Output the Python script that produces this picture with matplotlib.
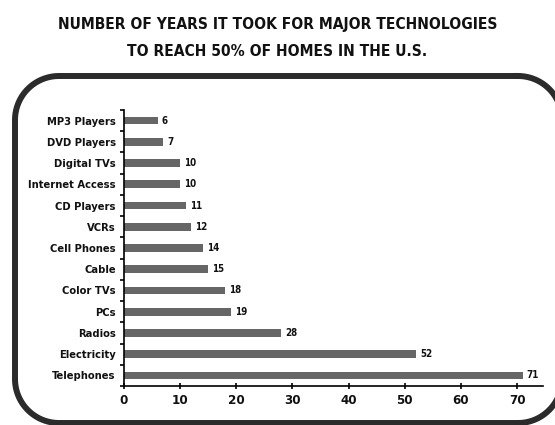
import numpy as np
import matplotlib
matplotlib.use("Agg")
import matplotlib.pyplot as plt

plt.rcParams['font.family'] = ['DejaVu Sans']
plt.rcParams['font.stretch'] = 'condensed'
plt.rcParams['font.weight'] = 'bold'

# data, top to bottom as in the picture
technologies = ["MP3 Players", "DVD Players", "Digital TVs", "Internet Access",
                "CD Players", "VCRs", "Cell Phones", "Cable", "Color TVs",
                "PCs", "Radios", "Electricity", "Telephones"]
years = [6, 7, 10, 10, 11, 12, 14, 15, 18, 19, 28, 52, 71]
x_ticks = [0, 10, 20, 30, 40, 50, 60, 70]

W, H = 555, 425
fig = plt.figure(figsize=(W / 100, H / 100), dpi=100)

# overlay in pixel units (y down) for the rounded frame,
# its right edge runs past the picture like in the original
bg = fig.add_axes([0, 0, 1, 1], zorder=-1)
bg.set_xlim(0, W)
bg.set_ylim(H, 0)
bg.axis("off")

left, right, top, bottom, r = 15, 562, 76, 423, 44
xs, ys = [], []
corners = [(right - r, top + r, -90, 0), (right - r, bottom - r, 0, 90),
           (left + r, bottom - r, 90, 180), (left + r, top + r, 180, 270)]
for cx, cy, a0, a1 in corners:
    t = np.radians(np.linspace(a0, a1, 30))
    xs.extend(cx + r * np.cos(t))
    ys.extend(cy + r * np.sin(t))
xs.append(xs[0])
ys.append(ys[0])
bg.plot(xs, ys, color="#2b2b2b", linewidth=4.3, solid_joinstyle="round")

fig.text(0.5, 1 - 25 / H, "NUMBER OF YEARS IT TOOK FOR MAJOR TECHNOLOGIES",
         ha="center", va="center", fontsize=11.2, color="#111111")
fig.text(0.5, 1 - 52 / H, "TO REACH 50% OF HOMES IN THE U.S.",
         ha="center", va="center", fontsize=11.2, color="#111111")

ax = fig.add_axes([124 / W, 1 - 386 / H, (543 - 124) / W, (386 - 110) / H])
ax.patch.set_alpha(0)
pos = list(range(len(technologies)))
ax.barh(pos, years, height=0.36, color="#666666")
for p, v in zip(pos, years):
    ax.text(v + 0.7, p, str(v), va="center", ha="left", fontsize=7, color="#111111")

ax.set_ylim(len(technologies) - 0.5, -0.5)
ax.set_xlim(0, 74.6)
ax.set_yticks(pos)
ax.set_yticklabels(technologies, fontsize=8, color="#111111")
ax.set_yticks([p - 0.5 for p in pos] + [len(pos) - 0.5], minor=True)
ax.tick_params(axis="y", which="major", length=0, pad=6)
ax.tick_params(axis="y", which="minor", length=3, width=1.2, direction="out")
ax.set_xticks(x_ticks)
ax.set_xticklabels([str(t) for t in x_ticks], fontsize=9.5, color="#111111")
ax.tick_params(axis="x", length=5, width=1.2, direction="inout", pad=3)
for s in ["top", "right"]:
    ax.spines[s].set_visible(False)
ax.spines["left"].set_linewidth(1.2)
ax.spines["bottom"].set_linewidth(1.2)

fig.savefig("out.png", dpi=100)
